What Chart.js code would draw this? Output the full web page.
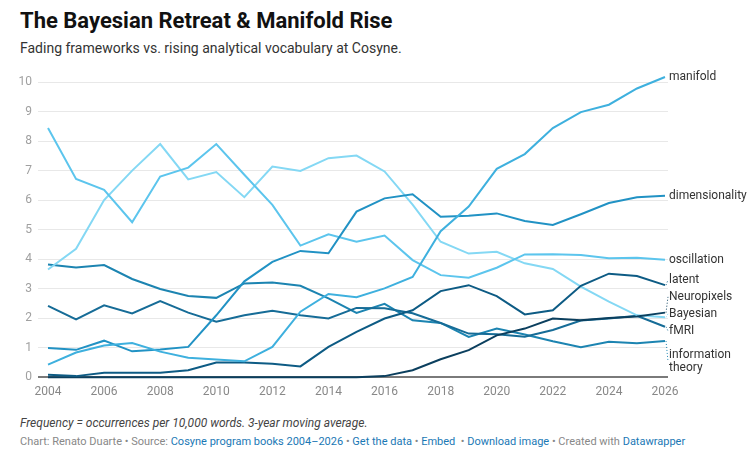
<!DOCTYPE html>
<html>
<head>
<meta charset="utf-8">
<script src="https://cdn.jsdelivr.net/npm/chart.js@4.4.1/dist/chart.umd.min.js"></script>
<style>
  html, body { margin: 0; padding: 0; background: #fff; }
  body { width: 755px; height: 467px; position: relative; font-family: Roboto, "Open Sans", sans-serif; overflow: hidden; }
  #title { position: absolute; left: 20px; top: 8px; font-size: 22px; line-height: 26px; font-weight: 700; color: #111; }
  #subtitle { position: absolute; left: 20px; top: 39px; font-size: 14px; line-height: 18px; color: #333; }
  #chart-wrap { position: absolute; left: 0; top: 62px; width: 755px; height: 345px; }
  #notes { position: absolute; left: 20px; top: 415px; font-size: 12px; line-height: 16px; font-style: italic; color: #444; }
  #byline { position: absolute; left: 20px; top: 434px; font-size: 11px; line-height: 16px; color: #888; white-space: nowrap; }
  #byline a { color: #1a78b5; text-decoration: none; }
</style>
</head>
<body>
<div id="title">The Bayesian Retreat &amp; Manifold Rise</div>
<div id="subtitle">Fading frameworks vs. rising analytical vocabulary at Cosyne.</div>
<div id="chart-wrap"><canvas id="trend-chart"></canvas></div>
<div id="notes">Frequency = occurrences per 10,000 words. 3-year moving average.</div>
<div id="byline">Chart: Renato Duarte • Source: <a>Cosyne program books 2004–2026</a> • <a>Get the data</a> • <a>Embed</a> &nbsp;• <a>Download image</a> • Created with <a>Datawrapper</a></div>

<script>
const years = [2004, 2005, 2006, 2007, 2008, 2009, 2010, 2011, 2012, 2013, 2014, 2015,
  2016, 2017, 2018, 2019, 2020, 2021, 2022, 2023, 2024, 2025, 2026];
const yearTicks = [2004, 2006, 2008, 2010, 2012, 2014, 2016, 2018, 2020, 2022, 2024, 2026];
const valueTicks = [0, 1, 2, 3, 4, 5, 6, 7, 8, 9, 10];

const seriesNames = ["manifold", "dimensionality", "oscillation", "latent",
  "Neuropixels", "Bayesian", "fMRI", "information theory"];

const manifold = [0.43, 0.84, 1.08, 1.16, 0.87, 0.66, 0.6, 0.54, 1.03, 2.22, 2.82, 2.71,
  3.01, 3.4, 4.95, 5.78, 7.06, 7.56, 8.44, 8.98, 9.23, 9.78, 10.17];
const dimensionality = [0.99, 0.93, 1.24, 0.88, 0.94, 1.03, 2.1, 3.25, 3.91, 4.28, 4.2, 5.61,
  6.06, 6.2, 5.44, 5.47, 5.55, 5.29, 5.16, 5.52, 5.9, 6.1, 6.15];
const oscillation = [8.44, 6.72, 6.35, 5.25, 6.8, 7.1, 7.9, 6.86, 5.84, 4.46, 4.84, 4.59,
  4.8, 3.97, 3.46, 3.37, 3.71, 4.16, 4.17, 4.14, 4.03, 4.05, 3.98];
const latent = [0.09, 0.04, 0.15, 0.15, 0.15, 0.24, 0.5, 0.5, 0.46, 0.37, 1.03, 1.54,
  1.99, 2.27, 2.92, 3.12, 2.75, 2.13, 2.27, 3.1, 3.51, 3.43, 3.12];
const neuropixels = [0, 0, 0, 0, 0, 0, 0, 0, 0, 0, 0, 0,
  0.04, 0.24, 0.61, 0.92, 1.42, 1.65, 1.99, 1.93, 2.01, 2.06, 2.19];
const bayesian = [3.65, 4.35, 6.0, 7.0, 7.9, 6.7, 6.95, 6.1, 7.14, 6.99, 7.42, 7.51,
  6.97, 5.85, 4.59, 4.19, 4.25, 3.86, 3.67, 3.07, 2.56, 2.1, 2.03];
const fmri = [2.42, 1.96, 2.44, 2.16, 2.58, 2.19, 1.88, 2.1, 2.25, 2.1, 1.99, 2.35,
  2.34, 2.17, 1.84, 1.48, 1.46, 1.37, 1.6, 1.92, 1.99, 2.08, 1.71];
const informationTheory = [3.82, 3.72, 3.8, 3.33, 2.99, 2.75, 2.69, 3.18, 3.21, 3.1, 2.67, 2.18,
  2.49, 1.93, 1.84, 1.37, 1.65, 1.45, 1.22, 1.02, 1.2, 1.15, 1.23];

const seriesValues = [manifold, dimensionality, oscillation, latent,
  neuropixels, bayesian, fmri, informationTheory];
const seriesColors = ["#3eb0de", "#2192c4", "#5cc5ed", "#0d5b84",
  "#0b3f5e", "#84d8f4", "#166c97", "#1c84b1"];

const FONT = "Roboto, 'Open Sans', sans-serif";

// places end labels so they don't overlap, keeping each group centred on its lines
const layoutLabels = (items) => {
  const sorted = items.slice().sort((a, b) => a.target - b.target);
  let clusters = sorted.map((it) => ({ items: [it] }));
  const place = (c) => {
    let off = 0;
    const centers = c.items.map((it) => { const m = off + it.h / 2; off += it.h; return m; });
    const meanTarget = c.items.reduce((s, it) => s + it.target, 0) / c.items.length;
    const meanCenter = centers.reduce((s, v) => s + v, 0) / centers.length;
    c.top = meanTarget - meanCenter;
    c.h = off;
    c.items.forEach((it, i) => { it.y = c.top + centers[i]; });
  };
  clusters.forEach(place);
  let merged = true;
  while (merged) {
    merged = false;
    for (let i = 0; i < clusters.length - 1; i++) {
      const a = clusters[i], b = clusters[i + 1];
      if (a.top + a.h > b.top) {
        const c = { items: a.items.concat(b.items) };
        place(c);
        clusters.splice(i, 2, c);
        merged = true;
        break;
      }
    }
  }
  return sorted;
};

const endLabels = {
  id: "endLabels",
  afterDatasetsDraw(chart) {
    const { ctx, scales } = chart;
    const lastYear = years[years.length - 1];
    const xEnd = scales.x.getPixelForValue(lastYear);
    const items = chart.data.datasets.map((ds, i) => {
      const lines = ds.label === "information theory" ? ["information", "theory"] : [ds.label];
      return {
        lines,
        color: ds.borderColor,
        target: scales.y.getPixelForValue(ds.data[ds.data.length - 1].y),
        h: lines.length * 17 + (lines.length > 1 ? 10 : 0),
      };
    });
    layoutLabels(items);
    const textX = xEnd + 4;
    ctx.save();
    items.forEach((it) => {
      if (Math.abs(it.y - it.target) > 3) {
        ctx.beginPath();
        ctx.setLineDash([1, 2]);
        ctx.lineWidth = 1;
        ctx.strokeStyle = it.color;
        ctx.moveTo(xEnd + 1, it.target);
        ctx.lineTo(textX - 1, it.y);
        ctx.stroke();
        ctx.setLineDash([]);
      }
      ctx.fillStyle = "#333";
      ctx.font = "12px " + FONT;
      ctx.textAlign = "left";
      ctx.textBaseline = "middle";
      const lh = 13.6;
      const startY = it.y - (it.lines.length - 1) * lh / 2;
      it.lines.forEach((t, k) => ctx.fillText(t, textX, startY + k * lh));
    });
    ctx.restore();
  },
};

const renderChart = () => {
  const canvas = document.querySelector("#trend-chart");
  const datasets = seriesNames.map((name, i) => ({
    label: name,
    data: years.map((yr, j) => ({ x: yr, y: seriesValues[i][j] })),
    borderColor: seriesColors[i],
    backgroundColor: seriesColors[i],
    borderWidth: 2,
    pointRadius: 0,
    pointHoverRadius: 0,
    tension: 0,
    clip: false,
  }));

  new Chart(canvas, {
    type: "line",
    data: { datasets },
    options: {
      responsive: true,
      maintainAspectRatio: false,
      animation: false,
      layout: { padding: { top: 20, right: 87, left: 0, bottom: 0 } },
      plugins: {
        legend: { display: false },
        tooltip: { enabled: false },
      },
      scales: {
        x: {
          type: "linear",
          min: 2003.643,
          max: 2026.107,
          afterBuildTicks: (scale) => { scale.ticks = yearTicks.map((v) => ({ value: v })); },
          afterFit: (scale) => { scale.height = 29.7; },
          grid: { display: false, drawTicks: false },
          border: { display: false },
          ticks: {
            color: "#888",
            font: { family: FONT, size: 12 },
            padding: 7,
            maxRotation: 0,
            autoSkip: false,
            callback: (v) => String(v),
          },
        },
        y: {
          min: 0,
          max: 10,
          afterBuildTicks: (scale) => { scale.ticks = valueTicks.map((v) => ({ value: v })); },
          afterFit: (scale) => { scale.width = 38; },
          grid: {
            drawTicks: false,
            color: (c) => (c.tick && c.tick.value === 0 ? "#7a7a7a" : "#e8e8e8"),
            lineWidth: (c) => (c.tick && c.tick.value === 0 ? 2 : 1),
          },
          border: { display: false },
          ticks: {
            color: "#a0a0a0",
            font: { family: FONT, size: 12 },
            padding: 6,
            callback: (v) => String(v),
          },
        },
      },
    },
    plugins: [endLabels],
  });
};

document.addEventListener("DOMContentLoaded", renderChart);
</script>
</body>
</html>
